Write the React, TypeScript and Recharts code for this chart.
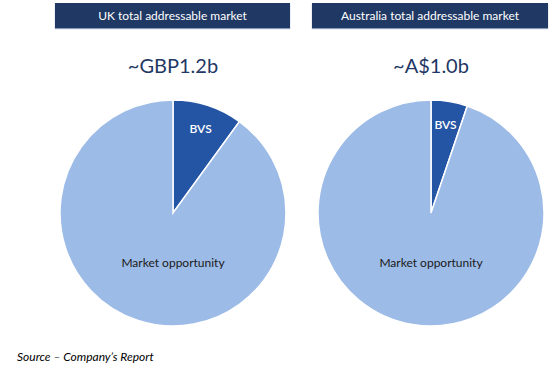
import { PieChart, Pie, Cell } from 'recharts'

const segments = ['BVS', 'Market opportunity']
const ukShare = [10, 90]
const auShare = [5.2, 94.8]
const headers = ['UK total addressable market', 'Australia total addressable market']
const totals = ['~GBP1.2b', '~A$1.0b']

const NAVY = '#1f3864'
const colors = ['#2455a4', '#9dbbe7']
const FONT = 'Lato, "Open Sans", sans-serif'

const ukData = segments.map((name, i) => ({ name, value: ukShare[i] }))
const auData = segments.map((name, i) => ({ name, value: auShare[i] }))

const RAD = Math.PI / 180

function renderLabel(props: any) {
  const { cx, cy, midAngle, outerRadius, name } = props
  if (name === 'BVS') {
    const r = outerRadius * 0.79
    const x = cx + r * Math.cos(-midAngle * RAD)
    const y = cy + r * Math.sin(-midAngle * RAD)
    return (
      <text x={x} y={y} fill="#ffffff" fontSize={12} fontWeight={600} fontFamily={FONT} textAnchor="middle" dominantBaseline="central">
        {name}
      </text>
    )
  }
  return (
    <text x={cx} y={cy + 49} fill="#1a1a1a" fontSize={12} fontFamily={FONT} textAnchor="middle" dominantBaseline="central">
      {name}
    </text>
  )
}

const headerBox = (left: number, width: number, text: string) => (
  <div
    style={{
      position: 'absolute',
      left,
      top: 3,
      width,
      height: 25,
      background: NAVY,
      color: '#fff',
      fontFamily: FONT,
      fontSize: 12,
      lineHeight: '25px',
      textAlign: 'center',
      boxShadow: '0 1px 1px #8a9bb8',
    }}
  >
    {text}
  </div>
)

const title = (centerX: number, text: string) => (
  <div
    style={{
      position: 'absolute',
      left: centerX - 100,
      top: 51,
      width: 200,
      textAlign: 'center',
      color: NAVY,
      fontFamily: FONT,
      fontSize: 20,
      lineHeight: '28px',
    }}
  >
    {text}
  </div>
)

export default function App() {
  return (
    <div style={{ position: 'absolute', left: 0, top: 0, width: 559, height: 368, background: '#fff' }}>
      {headerBox(55, 235, headers[0])}
      {headerBox(312, 236, headers[1])}
      {title(173, totals[0])}
      {title(431, totals[1])}
      <div style={{ position: 'absolute', left: 0, top: 0 }}>
        <PieChart width={559} height={368} margin={{ top: 0, right: 0, bottom: 0, left: 0 }}>
          <Pie
            data={ukData}
            dataKey="value"
            nameKey="name"
            cx={173}
            cy={213}
            outerRadius={113}
            startAngle={90}
            endAngle={-270}
            stroke="#ffffff"
            strokeWidth={1.5}
            label={renderLabel}
            labelLine={false}
            isAnimationActive={false}
          >
            {ukData.map((d, i) => (
              <Cell key={d.name} fill={colors[i]} />
            ))}
          </Pie>
          <Pie
            data={auData}
            dataKey="value"
            nameKey="name"
            cx={431}
            cy={213}
            outerRadius={113}
            startAngle={90}
            endAngle={-270}
            stroke="#ffffff"
            strokeWidth={1.5}
            label={renderLabel}
            labelLine={false}
            isAnimationActive={false}
          >
            {auData.map((d, i) => (
              <Cell key={d.name} fill={colors[i]} />
            ))}
          </Pie>
        </PieChart>
      </div>
      <div
        style={{
          position: 'absolute',
          left: 17,
          top: 349,
          fontFamily: FONT,
          fontStyle: 'italic',
          fontSize: 12,
          color: '#000',
        }}
      >
        Source – Company’s Report
      </div>
    </div>
  )
}
